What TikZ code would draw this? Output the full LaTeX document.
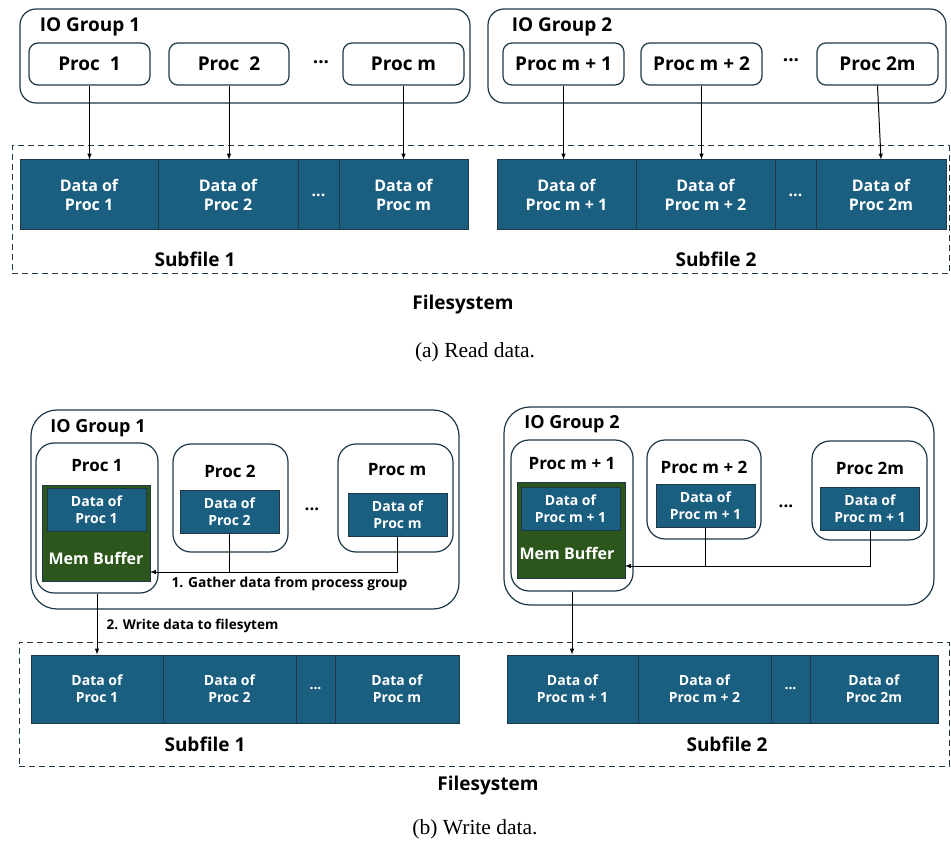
\documentclass[tikz,border=0pt]{standalone}
\usepackage{fontspec}
\setmainfont{Open Sans}
\newfontfamily\capfont{Liberation Serif}
\usetikzlibrary{arrows}
\definecolor{datablue}{RGB}{26,94,128}
\definecolor{memgreen}{RGB}{44,86,28}
\definecolor{edgedark}{RGB}{30,56,72}
\tikzset{
  grpbox/.style={draw=edgedark,line width=1.2pt,rounded corners=16pt,inner sep=0pt},
  procbox/.style={draw=edgedark,line width=1.2pt,rounded corners=9pt,fill=white,inner sep=0pt,font=\fontsize{19}{23}\selectfont\bfseries},
  procwin/.style={draw=edgedark,line width=1.2pt,rounded corners=18pt,fill=white,inner sep=0pt},
  databox/.style={draw=edgedark,line width=1pt,fill=datablue,text=white,inner sep=0pt,align=center},
  membox/.style={draw=edgedark,line width=1pt,fill=memgreen,inner sep=0pt},
  fsbox/.style={draw=edgedark,line width=1pt,dash pattern=on 6pt off 4pt,inner sep=0pt},
  lbl/.style={inner sep=0pt,font=\fontsize{19}{23}\selectfont\bfseries},
  conn/.style={line width=1pt,-latex}
}
\begin{document}
\begin{tikzpicture}[x=1pt,y=-1pt]
\useasboundingbox (0,0) rectangle (951,842);
%(a) Read data
%Filesystem
\node[fsbox,minimum width=937pt,minimum height=128pt] (fsA) at (480.5,210) {};
%IO groups
\node[grpbox,minimum width=450pt,minimum height=94pt] (grpA1) at (245,56) {};
\node[grpbox,minimum width=458pt,minimum height=94pt] (grpA2) at (717,56) {};
\node[lbl] (grpA1lbl) at (90,27) {IO Group 1};
\node[lbl] (grpA2lbl) at (562,27) {IO Group 2};
%Procs
\node[procbox,minimum width=121pt,minimum height=42pt] (pA1) at (89.5,64) {Proc\ \ 1};
\node[procbox,minimum width=120pt,minimum height=42pt] (pA2) at (229,64) {Proc\ \ 2};
\node[lbl] (pAdots) at (321,62) {...};
\node[procbox,minimum width=121pt,minimum height=42pt] (pAm) at (403.5,64) {Proc m};
\node[procbox,minimum width=121pt,minimum height=42pt] (pAm1) at (563.5,64) {Proc m + 1};
\node[procbox,minimum width=121pt,minimum height=42pt] (pAm2) at (701.5,64) {Proc m + 2};
\node[lbl] (pAdots2) at (791,60) {...};
\node[procbox,minimum width=121pt,minimum height=42pt] (pA2m) at (877.5,64) {Proc 2m};
%Subfiles
\begin{scope}[every node/.append style={databox,minimum height=70pt,font=\fontsize{16}{19}\selectfont\bfseries}]
\node[minimum width=138pt] (dA1) at (89,195) {Data of\\Proc 1};
\node[minimum width=140pt] (dA2) at (228,195) {Data of\\Proc 2};
\node[minimum width=41pt] (dAdots) at (318.5,195) {...};
\node[minimum width=129pt] (dAm) at (403.5,195) {Data of\\Proc m};
\node[minimum width=139pt] (dAm1) at (566.5,195) {Data of\\Proc m + 1};
\node[minimum width=139pt] (dAm2) at (705.5,195) {Data of\\Proc m + 2};
\node[minimum width=41pt] (dAdots2) at (795.5,195) {...};
\node[minimum width=130pt] (dA2m) at (881,195) {Data of\\Proc 2m};
\end{scope}
\draw[conn] (pA1.south) -- (pA1.south |- dA1.north);
\draw[conn] (pA2.south) -- (pA2.south |- dA2.north);
\draw[conn] (pAm.south) -- (pAm.south |- dAm.north);
\draw[conn] (pAm1.south) -- (pAm1.south |- dAm1.north);
\draw[conn] (pAm2.south) -- (pAm2.south |- dAm2.north);
\draw[conn] (pA2m.south) -- (dA2m.north);
\node[lbl] (subA1) at (195,259) {Subfile 1};
\node[lbl] (subA2) at (716,259) {Subfile 2};
\node[lbl] (fsAlbl) at (463,305) {Filesystem};
\node[inner sep=0pt,font=\capfont\fontsize{21.5}{25}\selectfont] (capA) at (475,352) {(a) Read data.};
%(b) Write data
%Filesystem
\node[fsbox,minimum width=930pt,minimum height=124pt] (fsB) at (484,704) {};
%IO groups
\node[grpbox,rounded corners=26pt,minimum width=428pt,minimum height=199pt] (grpB1) at (245,509.5) {};
\node[grpbox,rounded corners=26pt,minimum width=430pt,minimum height=198pt] (grpB2) at (719,506) {};
\node[lbl,font=\fontsize{18}{22}\selectfont\bfseries] (grpB1lbl) at (98,428) {IO Group 1};
\node[lbl,font=\fontsize{18}{22}\selectfont\bfseries] (grpB2lbl) at (572,424) {IO Group 2};
%Procs
\node[procwin,minimum width=122pt,minimum height=150pt] (pB1) at (97,518) {};
\node[procwin,minimum width=115pt,minimum height=108pt] (pB2) at (230.5,498) {};
\node[procwin,minimum width=115pt,minimum height=108pt] (pBm) at (395.5,498) {};
\node[procwin,minimum width=122pt,minimum height=151pt] (pBm1) at (572,515.5) {};
\node[procwin,minimum width=114pt,minimum height=99pt] (pBm2) at (704,489.5) {};
\node[procwin,minimum width=115pt,minimum height=99pt] (pB2m) at (869.5,490.5) {};
\begin{scope}[every node/.append style={lbl,font=\fontsize{17}{20}\selectfont\bfseries}]
\node (pB1lbl) at (97,466) {Proc 1};
\node (pB2lbl) at (230,471) {Proc 2};
\node (pBmlbl) at (397,470) {Proc m};
\node (pBm1lbl) at (572,464) {Proc m + 1};
\node (pBm2lbl) at (704,467) {Proc m + 2};
\node (pB2mlbl) at (870,468) {Proc 2m};
\node (pBdots) at (312,509) {...};
\node (pBdots2) at (786,506) {...};
\end{scope}
%Mem buffers
\node[membox,minimum width=108pt,minimum height=96pt] (mB1) at (96,533) {};
\node[membox,minimum width=108pt,minimum height=96pt] (mBm1) at (571,530) {};
\node[lbl,text=white,font=\fontsize{16}{19}\selectfont\bfseries] (mB1lbl) at (96,558) {Mem Buffer};
\node[lbl,text=white,font=\fontsize{16}{19}\selectfont\bfseries] (mBm1lbl) at (567,553) {Mem Buffer};
\begin{scope}[every node/.append style={databox,minimum height=43pt,minimum width=99pt,font=\fontsize{14}{17}\selectfont\bfseries}]
\node (dB1) at (96.5,510) {Data of\\Proc 1};
\node (dB2) at (229.5,512) {Data of\\Proc 2};
\node (dBm) at (397.5,515) {Data of\\Proc m};
\node (dBm1) at (570.5,508.5) {Data of\\Proc m + 1};
\node (dBm2) at (705.5,505.5) {Data of\\Proc m + 1};
\node (dB2m) at (870,508.5) {Data of\\Proc m + 1};
\end{scope}
%Gather
\coordinate (gB1) at (150,572);
\coordinate (gB2) at (625,566);
\draw[conn] (dBm.south) |- (gB1);
\draw[line width=1pt] (dB2.south) -- (dB2.south |- gB1);
\draw[conn] (dB2m.south) |- (gB2);
\draw[line width=1pt] (dBm2.south) -- (dBm2.south |- gB2);
\node[lbl,font=\fontsize{13.8}{16}\selectfont\bfseries] (gB1lbl) at (289.5,584) {1. Gather data from process group};
%Subfiles
\begin{scope}[every node/.append style={databox,minimum height=68pt,font=\fontsize{14}{17}\selectfont\bfseries}]
\node[minimum width=132pt] (fB1) at (97,689) {Data of\\Proc 1};
\node[minimum width=133pt] (fB2) at (229.5,689) {Data of\\Proc 2};
\node[minimum width=39pt] (fBdots) at (315.5,689) {...};
\node[minimum width=124pt] (fBm) at (397,689) {Data of\\Proc m};
\node[minimum width=131pt] (fBm1) at (572.5,689) {Data of\\Proc m + 1};
\node[minimum width=133pt] (fBm2) at (704.5,689) {Data of\\Proc m + 2};
\node[minimum width=39pt] (fBdots2) at (790.5,689) {...};
\node[minimum width=128pt] (fB2m) at (874,689) {Data of\\Proc 2m};
\end{scope}
%Write
\draw[conn] (pB1.south) -- (pB1.south |- fB1.north);
\draw[conn] (pBm1.south) -- (pBm1.south |- fBm1.north);
\node[lbl,font=\fontsize{13.5}{16}\selectfont\bfseries] (wB1lbl) at (192.5,626) {2. Write data to filesytem};
\node[lbl] (subB1) at (205,744) {Subfile 1};
\node[lbl] (subB2) at (727,744) {Subfile 2};
\node[lbl] (fsBlbl) at (488,786) {Filesystem};
\node[inner sep=0pt,font=\capfont\fontsize{21.5}{25}\selectfont] (capB) at (475,829) {(b) Write data.};
\end{tikzpicture}
\end{document}
